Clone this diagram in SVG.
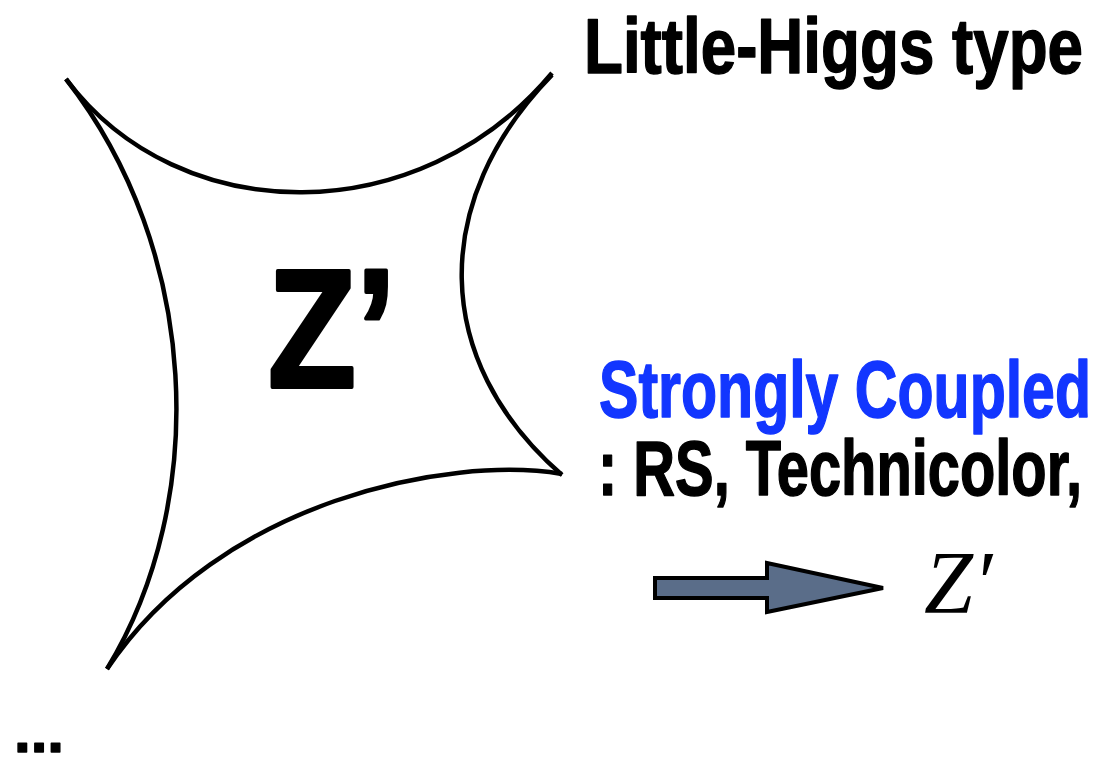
<svg xmlns="http://www.w3.org/2000/svg" width="1094" height="758" viewBox="0 0 1094 758">
  <style>
    .hand { font-family: "Liberation Sans", Arial, sans-serif; font-weight: bold; fill: #000; stroke: #000; stroke-width: 1.5; stroke-linejoin: round; }
    .blue { fill: #1236ff; stroke: #1236ff; }
    .edge { fill: none; stroke: #000; stroke-width: 4.5; stroke-linecap: butt; }
    .math { font-family: "Liberation Serif", "Times New Roman", serif; font-style: italic; fill: #000; }
  </style>
  <rect width="1094" height="758" fill="#fff"/>
  <g id="shape">
    <path class="edge" d="M66,79 C180,231 420,231 552,73"/>
    <path class="edge" d="M552,75 C430,200 430,360 562,475"/>
    <path class="edge" d="M562,474 C450,455 220,500 107,669"/>
    <path class="edge" d="M66,79 C200,250 210,500 107,669"/>
    <text id="zprime-big" class="hand" x="268" y="387" font-size="168" textLength="128" lengthAdjust="spacingAndGlyphs" style="stroke-width:4">Z’</text>
  </g>
  <g id="little-higgs">
    <text class="hand" x="584" y="73" font-size="78" textLength="499" lengthAdjust="spacingAndGlyphs">Little-Higgs type</text>
  </g>
  <g id="strongly-coupled">
    <text class="hand blue" x="599" y="417" font-size="80" textLength="492" lengthAdjust="spacingAndGlyphs">Strongly Coupled</text>
    <text class="hand" x="598" y="495" font-size="78" textLength="484" lengthAdjust="spacingAndGlyphs">: RS, Technicolor,</text>
  </g>
  <g id="connectors">
    <path d="M655,578 L767,578 L767,563 L883,588 L767,612 L767,598 L655,598 Z" fill="#5a6d89" stroke="#000" stroke-width="4" stroke-linejoin="miter"/>
  </g>
  <g id="zprime-math">
    <text class="math" x="924" y="612" font-size="88">Z′</text>
  </g>
  <g id="ellipsis">
    <text class="hand" x="14" y="752" font-size="60">...</text>
  </g>
</svg>
